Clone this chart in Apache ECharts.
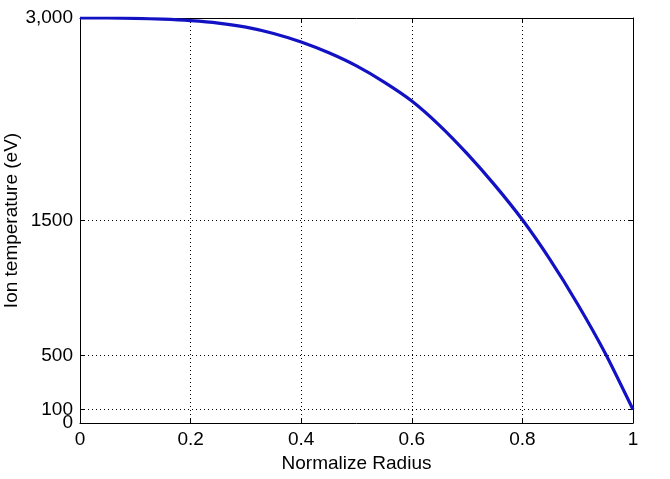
<!DOCTYPE html>
<html>
<head>
<meta charset="utf-8">
<script src="https://cdn.jsdelivr.net/npm/echarts@6/dist/echarts.min.js"></script>
<style>html,body{margin:0;padding:0;background:#fff}#c{width:670px;height:479px}</style>
</head>
<body>
<div id="c"></div>
<script>
const radius = [0, 0.05, 0.1, 0.15, 0.2, 0.25, 0.3, 0.35, 0.4, 0.45, 0.5, 0.55, 0.6, 0.65, 0.7, 0.75, 0.8, 0.85, 0.9, 0.95, 1.0];
const ionTemp = [3000, 3000, 2997, 2991, 2980, 2962, 2932, 2885, 2822, 2742, 2645, 2525, 2385, 2205, 1995, 1762, 1505, 1210, 880, 515, 100];
const yTickValues = [0, 100, 500, 1500, 3000];
const yMainLabels = [0, 500, 1500, 3000];
const yMainLabelText = ['0', '500', '1500', '3,000'];
const yExtraLabels = [100];
const yExtraLabelText = ['100'];
const yGridValues = [100, 500, 1500];
const xTickValues = [0, 0.2, 0.4, 0.6, 0.8, 1];
const xTitle = 'Normalize Radius';
const yTitle = 'Ion temperature (eV)';

const font = 'Liberation Sans, Arial, sans-serif';
const fs = 19;
const lineCol = { color: '#000', width: 1 };
const chart = echarts.init(document.getElementById('c'));
chart.setOption({
  animation: false,
  backgroundColor: '#fff',
  grid: { left: 80, right: 37, top: 18, bottom: 56, containLabel: false, outerBoundsMode: 'none' },
  xAxis: [{
    type: 'value', min: 0, max: 1, interval: 0.2,
    name: xTitle, nameLocation: 'middle', nameGap: 31, nameMoveOverlap: false,
    nameTextStyle: { color: '#000', fontSize: fs, fontFamily: font },
    axisLine: { show: true, onZero: false, lineStyle: lineCol },
    axisTick: { show: true, inside: true, length: 5, lineStyle: { color: '#000' } },
    axisLabel: { color: '#000', fontSize: fs, fontFamily: font, margin: 7, hideOverlap: false,
      formatter: v => (xTickValues.indexOf(+v.toFixed(1)) >= 0 ? String(+v.toFixed(1)) : '') },
    splitLine: { show: true, lineStyle: { color: '#000', type: [1, 3], width: 1 } }
  }, {
    type: 'value', min: 0, max: 1, interval: 0.2, position: 'top',
    axisLine: { show: true, onZero: false, lineStyle: lineCol },
    axisTick: { show: true, inside: true, length: 5, lineStyle: { color: '#000' } },
    axisLabel: { show: false }, splitLine: { show: false }
  }],
  yAxis: [{
    type: 'value', min: 0, max: 3000, position: 'left',
    name: yTitle, nameLocation: 'middle', nameGap: 59, nameRotate: 90, nameMoveOverlap: false,
    nameTextStyle: { color: '#000', fontSize: fs, fontFamily: font },
    axisLine: { show: true, onZero: false, lineStyle: lineCol },
    axisTick: { show: true, inside: true, length: 5, customValues: yTickValues, lineStyle: { color: '#000' } },
    axisLabel: { color: '#000', fontSize: fs, fontFamily: font, margin: 7, customValues: yMainLabels,
      hideOverlap: false, showMinLabel: true, showMaxLabel: true,
      formatter: v => { const i = yMainLabels.indexOf(v); return i >= 0 ? yMainLabelText[i] : ''; } },
    splitLine: { show: false }
  }, {
    type: 'value', min: 0, max: 3000, position: 'right',
    axisLine: { show: true, onZero: false, lineStyle: lineCol },
    axisTick: { show: true, inside: true, length: 5, customValues: yTickValues, lineStyle: { color: '#000' } },
    axisLabel: { show: false }, splitLine: { show: false }
  }, {
    type: 'value', min: 0, max: 3000, position: 'left',
    axisLine: { show: false }, axisTick: { show: false },
    axisLabel: { color: '#000', fontSize: fs, fontFamily: font, margin: 7, customValues: yExtraLabels,
      hideOverlap: false,
      formatter: v => { const i = yExtraLabels.indexOf(v); return i >= 0 ? yExtraLabelText[i] : ''; } },
    splitLine: { show: false }
  }],
  series: [{
    type: 'line',
    data: radius.map((r, i) => [r, ionTemp[i]]),
    smooth: 0.2,
    showSymbol: false,
    lineStyle: { color: '#1212c4', width: 3.2 },
    z: 5,
    markLine: {
      silent: true, symbol: 'none', label: { show: false },
      lineStyle: { color: '#000', type: [1, 3], width: 1 },
      data: yGridValues.map(v => ({ yAxis: v }))
    }
  }]
});
</script>
</body>
</html>
